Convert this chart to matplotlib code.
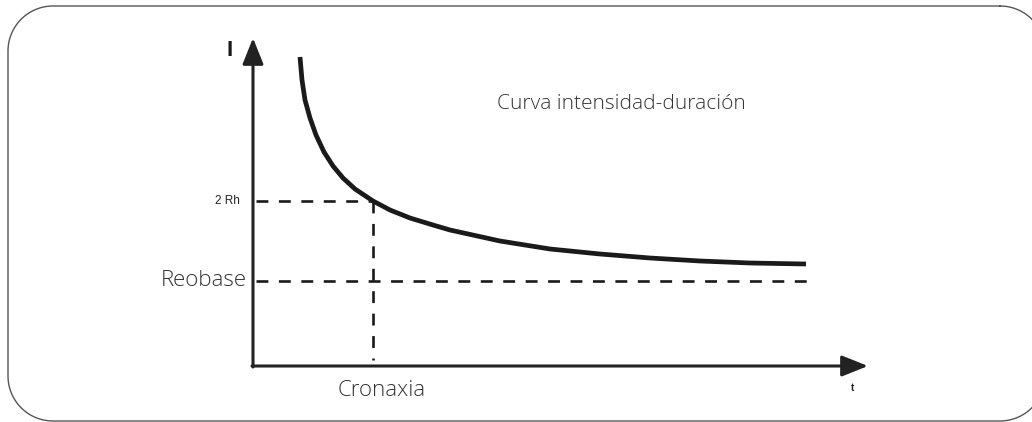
import numpy as np
import matplotlib
matplotlib.use("Agg")
import matplotlib.pyplot as plt

# curve (t, I) in arbitrary units
curve_t = [0.47, 0.49, 0.52, 0.57, 0.63, 0.71, 0.80, 0.90, 1.02, 1.20, 1.37,
           1.57, 1.80, 1.97, 2.47, 2.97, 3.47, 3.97, 4.47, 4.97, 5.53]
curve_i = [3.09, 2.86, 2.66, 2.48, 2.31, 2.14, 2.00, 1.88, 1.77, 1.65, 1.56,
           1.48, 1.41, 1.36, 1.25, 1.17, 1.12, 1.08, 1.05, 1.03, 1.02]

rheobase = 0.85
two_rh = 1.65
chronaxie = 1.20
reobase_end = 5.59
chron_bottom = 0.06

title_text = "Curva intensidad-duración"
reobase_label = "Reobase"
two_rh_label = "2 Rh"
chron_label = "Cronaxia"

W, H = 1032, 422
fig = plt.figure(figsize=(W / 100, H / 100), dpi=100)


def rounded_frame(x0, y0, x1, y1, r, n=30):
    """polyline of a rounded rectangle (pixel coords, y down)"""
    xs, ys = [], []
    corners = [(x1 - r, y0 + r, -90, 0), (x1 - r, y1 - r, 0, 90),
               (x0 + r, y1 - r, 90, 180), (x0 + r, y0 + r, 180, 270)]
    for cx, cy, a0, a1 in corners:
        a = np.radians(np.linspace(a0, a1, n))
        xs.extend(cx + r * np.cos(a))
        ys.extend(cy + r * np.sin(a))
    xs.append(xs[0])
    ys.append(ys[0])
    return xs, ys


# background axes in pixel coords for the rounded frame
bg = fig.add_axes([0, 0, 1, 1])
bg.set_xlim(0, W)
bg.set_ylim(H, 0)
bg.axis("off")
fx, fy = rounded_frame(8, 6, 1045, 421, 45)
bg.plot(fx, fy, color="#555555", lw=1.0)

ax = fig.add_axes([253 / W, (H - 366) / H, 615 / W, 328 / H])
ax.set_xlim(0, 6.15)
ax.set_ylim(0, 3.28)
ax.axis("off")

axis_color = "#222222"
arrow = dict(arrowstyle="-|>,head_length=1.0,head_width=0.4", lw=2.2, color=axis_color,
             mutation_scale=16, shrinkA=0, shrinkB=0)
ax.annotate("", xy=(0, 3.28), xytext=(0, -0.01), arrowprops=arrow, annotation_clip=False)
ax.annotate("", xy=(6.15, 0), xytext=(-0.01, 0), arrowprops=arrow, annotation_clip=False)

ax.plot(curve_t, curve_i, color="#1a1a1a", lw=3.4, solid_capstyle="butt",
        solid_joinstyle="round", clip_on=False)

dash = dict(color="#1a1a1a", lw=1.9, dashes=(4.5, 4), clip_on=False)
ax.plot([0.03, chronaxie], [two_rh, two_rh], **dash)
ax.plot([chronaxie, chronaxie], [two_rh, chron_bottom], **dash)
ax.plot([0.03, reobase_end], [rheobase, rheobase], **dash)

font = ["Open Sans", "DejaVu Sans"]
ax.text(2.44, 2.62, title_text, ha="left", va="center", fontsize=15,
        color="#333333", family=font, fontweight="light")
ax.text(-0.06, rheobase, reobase_label, ha="right", va="center", fontsize=16,
        color="#333333", family=font, fontweight="light")
ax.text(-0.13, two_rh, two_rh_label, ha="right", va="center", fontsize=8.5,
        color="#222222", family="Liberation Sans")
ax.text(1.29, -0.24, chron_label, ha="center", va="center", fontsize=16,
        color="#333333", family=font, fontweight="light")
ax.text(-0.23, 3.15, "I", ha="center", va="center", fontsize=16,
        color="#1a1a1a", family="Liberation Sans", fontweight="bold")
ax.text(6.0, -0.22, "t", ha="center", va="center", fontsize=7,
        color="#222222", family="Liberation Sans", fontweight="bold")

fig.savefig("out.png", dpi=100)
